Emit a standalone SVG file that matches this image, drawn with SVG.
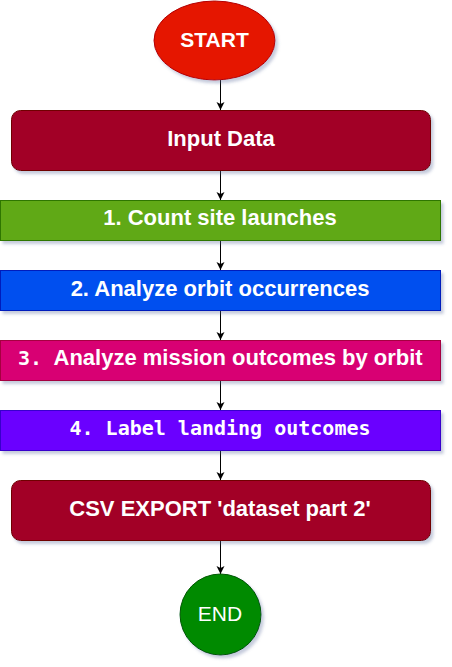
<svg xmlns="http://www.w3.org/2000/svg" width="452" height="667" viewBox="0 0 452 667">
  <style>
    .lbl { font-family: "Liberation Sans", Arial, Helvetica, sans-serif; font-weight: bold; font-size: 22px; fill: #ffffff; text-anchor: middle; }
    .mono { font-family: "DejaVu Sans Mono", "Liberation Mono", monospace; font-weight: bold; font-size: 20px; fill: #ffffff; }
    .edge { stroke: #000000; stroke-width: 1; fill: none; marker-end: url(#arrow); }
  </style>
  <defs>
    <filter id="shadow" x="-10%" y="-20%" width="125%" height="150%">
      <feDropShadow dx="2.5" dy="3" stdDeviation="1.4" flood-color="#5a6a9a" flood-opacity="0.35"/>
    </filter>
    <marker id="arrow" markerUnits="userSpaceOnUse" markerWidth="10" markerHeight="10" refX="8" refY="4" orient="auto">
      <path d="M0,0 L8,4 L0,8 L2,4 z" fill="#000000"/>
    </marker>
  </defs>

  <!-- connectors -->
  <g id="connectors">
    <line class="edge" x1="220.5" y1="80" x2="220.5" y2="110"/>
    <line class="edge" x1="220.5" y1="170.5" x2="220.5" y2="200"/>
    <line class="edge" x1="220.5" y1="240.5" x2="220.5" y2="270"/>
    <line class="edge" x1="220.5" y1="310.5" x2="220.5" y2="340"/>
    <line class="edge" x1="220.5" y1="380.5" x2="220.5" y2="410"/>
    <line class="edge" x1="220.5" y1="450.5" x2="220.5" y2="480"/>
    <line class="edge" x1="220.5" y1="540.5" x2="220.5" y2="574"/>
  </g>

  <g id="start">
    <ellipse cx="214.5" cy="40.5" rx="60.5" ry="39.5" fill="#e51400" stroke="#b20000" filter="url(#shadow)"/>
    <text x="214.5" y="47" class="lbl" style="font-size:21px">START</text>
  </g>

  <g id="input-data">
    <rect x="11.5" y="110.5" width="419" height="60" rx="9" fill="#a20025" stroke="#6f0000" filter="url(#shadow)"/>
    <text x="221" y="146" class="lbl">Input Data</text>
  </g>

  <g id="step1">
    <rect x="0.5" y="200.5" width="440" height="40" fill="#60a917" stroke="#2d7600" filter="url(#shadow)"/>
    <text x="220" y="225" class="lbl">1. Count site launches</text>
  </g>

  <g id="step2">
    <rect x="0.5" y="270.5" width="440" height="40" fill="#0050ef" stroke="#001dbc" filter="url(#shadow)"/>
    <text x="220" y="296" class="lbl">2. Analyze orbit occurrences</text>
  </g>

  <g id="step3">
    <rect x="0.5" y="340.5" width="440" height="40" fill="#d80073" stroke="#a50040" filter="url(#shadow)"/>
    <text y="365"><tspan x="18" class="mono">3.</tspan><tspan x="53.5" class="lbl" style="text-anchor:start">Analyze mission outcomes by orbit</tspan></text>
  </g>

  <g id="step4">
    <rect x="0.5" y="410.5" width="440" height="40" fill="#6a00ff" stroke="#3700cc" filter="url(#shadow)"/>
    <text x="220" y="435" class="mono" text-anchor="middle">4. Label landing outcomes</text>
  </g>

  <g id="csv-export">
    <rect x="11.5" y="480.5" width="419" height="60" rx="9" fill="#a20025" stroke="#6f0000" filter="url(#shadow)"/>
    <text x="220" y="516" class="lbl">CSV EXPORT 'dataset part 2'</text>
  </g>

  <g id="end">
    <circle cx="220.5" cy="614.5" r="40.5" fill="#008a00" stroke="#005700" filter="url(#shadow)"/>
    <text x="220" y="621" class="lbl" style="font-weight:normal;font-size:21px">END</text>
  </g>
</svg>
